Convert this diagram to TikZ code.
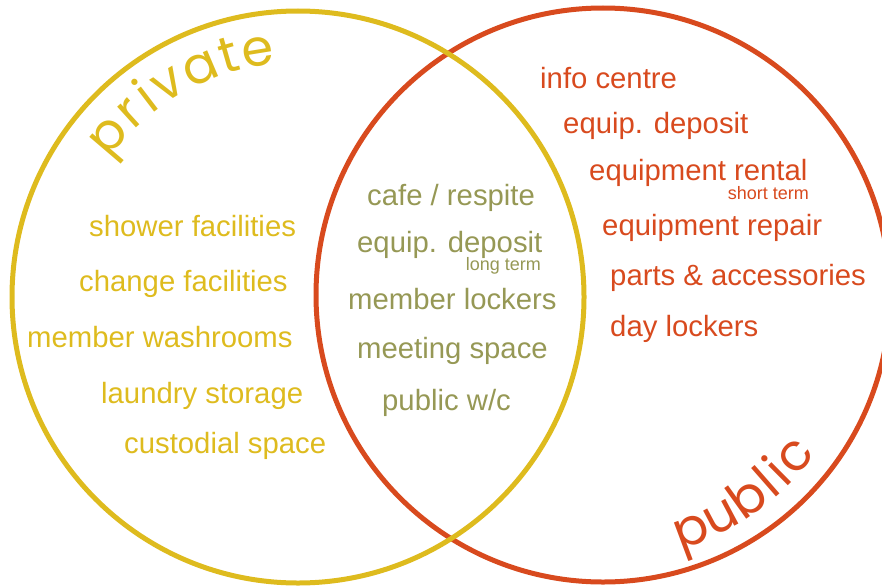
\documentclass[tikz,border=0pt]{standalone}
\usepackage{fontspec}
\setmainfont{Liberation Sans}
\newfontfamily\ringfont{Poppins}
\usetikzlibrary{calc}
\definecolor{ringyellow}{RGB}{222,187,30}
\definecolor{ringred}{RGB}{216,74,30}
\definecolor{olivetxt}{RGB}{150,152,85}
\tikzset{
  ring/.style={line width=5pt},
  item/.style={anchor=base west, inner sep=0pt, font=\fontsize{29.3}{29.3}\selectfont},
  note/.style={anchor=base east, inner sep=0pt, font=\fontsize{18}{18}\selectfont},
  ringletter/.style={anchor=base, inner sep=0pt, font=\ringfont\fontsize{51}{51}\selectfont},
}
\begin{document}
\begin{tikzpicture}[x=1pt,y=-1pt]
\useasboundingbox (0,0) rectangle (882,586);
\clip (0,0) rectangle (882,586);

% the two sets
\coordinate (yc) at (298,297);
\coordinate (rc) at (603,295);
\draw[ring, ringred] (rc) circle[radius=287];
\draw[ring, ringyellow] (yc) circle[radius=286];

% set names, letter by letter along the rings
\foreach \ch/\a/\rot in {p/-139.5/49.5, r/-132.2/42.2, i/-127.3/37.3, v/-121.4/31.4, a/-113.1/23.1, t/-106.0/16.0, e/-99.2/9.2}
  \node[ringletter, text=ringyellow, rotate=\rot] (pv-\ch) at ($(yc)+(\a:234)$) {\ch};
\foreach \ch/\a/\rot in {p/69.5/20.5, u/62/28, b/54.4/35.6, l/48.8/41.2, i/45.2/44.8, c/40/50}
  \node[ringletter, text=ringred, rotate=\rot] (pb-\ch) at ($(rc)+(\a:266)$) {\ch};

% private only
\node[item, text=ringyellow] (shower) at (89,236) {shower facilities};
\node[item, text=ringyellow] (change) at (79,291) {change facilities};
\node[item, text=ringyellow] (washrooms) at (27,347) {member washrooms};
\node[item, text=ringyellow] (laundry) at (101,403) {laundry storage};
\node[item, text=ringyellow] (custodial) at (124,453) {custodial space};

% shared
\node[item, text=olivetxt] (cafe) at (367,205) {cafe / respite};
\node[item, text=olivetxt] (depositlong) at (357,252) {equip. deposit};
\node[note, text=olivetxt] (longterm) at (541,270) {long term};
\node[item, text=olivetxt] (memberlockers) at (348,309) {member lockers};
\node[item, text=olivetxt] (meeting) at (357,358) {meeting space};
\node[item, text=olivetxt] (wc) at (382,410) {public w/c};

% public only
\node[item, text=ringred] (info) at (540,88) {info centre};
\node[item, text=ringred] (deposit) at (563,133) {equip. deposit};
\node[item, text=ringred] (rental) at (589,180) {equipment rental};
\node[note, text=ringred] (shortterm) at (809,199) {short term};
\node[item, text=ringred] (repair) at (602,235) {equipment repair};
\node[item, text=ringred] (parts) at (610,285) {parts \& accessories};
\node[item, text=ringred] (daylockers) at (610,336) {day lockers};
\end{tikzpicture}
\end{document}
